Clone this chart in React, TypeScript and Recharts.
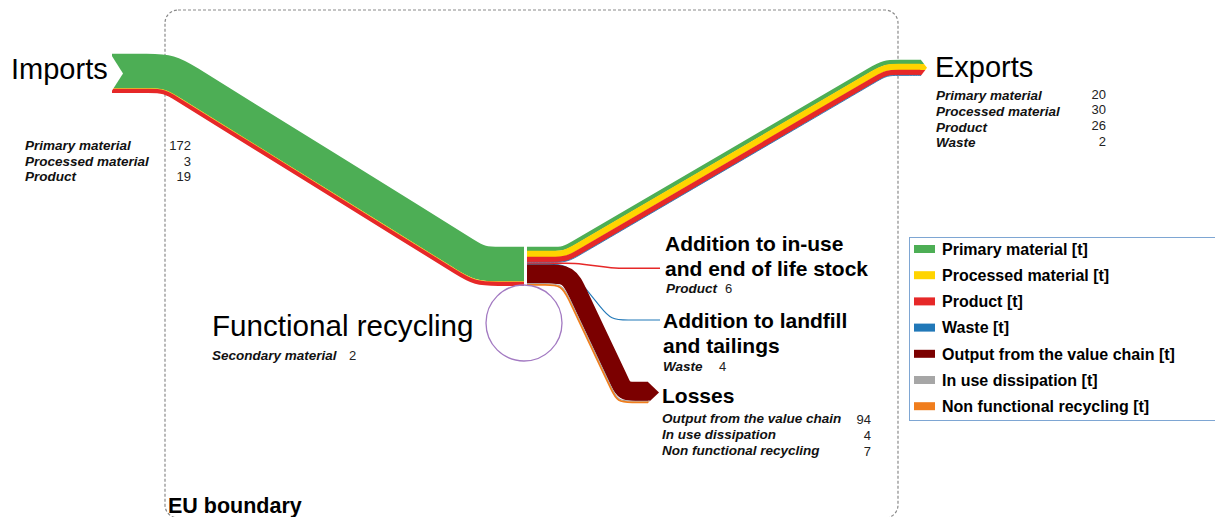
import React from 'react';
import { ComposedChart, Line, Scatter, XAxis, YAxis } from 'recharts';

// ---------------- data ----------------
const materials = [
  'Primary material',
  'Processed material',
  'Product',
  'Waste',
  'Output from the value chain',
  'In use dissipation',
  'Non functional recycling',
];
const importsMaterials = ['Primary material', 'Processed material', 'Product'];
const importsValues = [172, 3, 19];
const exportsMaterials = ['Primary material', 'Processed material', 'Product', 'Waste'];
const exportsValues = [20, 30, 26, 2];
const stockMaterials = ['Product'];
const stockValues = [6];
const landfillMaterials = ['Waste'];
const landfillValues = [4];
const lossesMaterials = ['Output from the value chain', 'In use dissipation', 'Non functional recycling'];
const lossesValues = [94, 4, 7];
const recyclingMaterials = ['Secondary material'];
const recyclingValues = [2];
const unitSuffix = ' [t]';

// ---------------- styles ----------------
const W = 1215;
const H = 517;
const PX_PER_T = 0.2;
const FONT = '"Liberation Sans", Arial, Helvetica, sans-serif';
const MATERIAL_COLORS: Record<string, string> = {
  'Primary material': '#4dae55',
  'Processed material': '#ffd400',
  Product: '#e62828',
  Waste: '#2178b8',
  'Output from the value chain': '#7b0000',
  'In use dissipation': '#a6a6a6',
  'Non functional recycling': '#f07d1c',
};
const RECYCLING_COLOR = '#a37ac2';

type Pt = [number, number];
const sum = (a: number[]) => a.reduce((s, v) => s + v, 0);

// ---------------- layout (diagram anchors) ----------------
const HUB = { inX: 524, outX: 527, top: 247 };
const T_IMP = sum(importsValues) * PX_PER_T;
const T_EXP = sum(exportsValues) * PX_PER_T;
const T_STK = sum(stockValues) * PX_PER_T;
const T_LDF = sum(landfillValues) * PX_PER_T;
const T_LOS = sum(lossesValues) * PX_PER_T;
const expTop = HUB.top;
const stkTop = expTop + T_EXP;
const ldfTop = stkTop + T_STK;
const losTop = ldfTop + T_LDF;

const cImp0 = 54 + T_IMP / 2;
const cImp1 = HUB.top + T_IMP / 2;
const cExp0 = expTop + T_EXP / 2;
const cExp1 = 60 + T_EXP / 2;
const cStk = stkTop + T_STK / 2;
const cLdf = ldfTop + T_LDF / 2;
const cLos = losTop + T_LOS / 2;
const cLosEnd = 392.5;

const ROUTES: Record<string, { verts: Pt[]; radii: number[] }> = {
  imports: { verts: [[112, cImp0], [169, cImp0], [480, cImp1], [HUB.inX, cImp1]], radii: [60, 55] },
  exports: { verts: [[HUB.outX, cExp0], [565, cExp0], [885, cExp1], [921, cExp1]], radii: [40, 40] },
  stock: { verts: [[HUB.outX, cStk], [575, cStk], [615, 268.2], [660, 268.2]], radii: [300, 300] },
  landfill: { verts: [[HUB.outX, cLdf], [566, cLdf], [611, 320], [660, 320]], radii: [30, 30] },
  losses: { verts: [[HUB.outX, cLos], [568, cLos], [623.5, cLosEnd], [648, cLosEnd]], radii: [34, 22] },
};
const RECYCLE_LOOP = { x: 524, y: 323, r: 38 };

// centre-line offset of a band -> control polygon for a smooth (basis) curve
function bandPoints(verts: Pt[], radii: number[], offset: number): { x: number; y: number }[] {
  const n = verts.length;
  const dirs: Pt[] = [];
  for (let i = 0; i < n - 1; i++) {
    const dx = verts[i + 1][0] - verts[i][0];
    const dy = verts[i + 1][1] - verts[i][1];
    const L = Math.hypot(dx, dy);
    dirs.push([dx / L, dy / L]);
  }
  const nrm = (u: Pt): Pt => [-u[1], u[0]];
  const off: Pt[] = [];
  const n0 = nrm(dirs[0]);
  off.push([verts[0][0] + n0[0] * offset, verts[0][1] + n0[1] * offset]);
  for (let i = 1; i < n - 1; i++) {
    const a = nrm(dirs[i - 1]);
    const b = nrm(dirs[i]);
    let mx = a[0] + b[0];
    let my = a[1] + b[1];
    const ml = Math.hypot(mx, my);
    mx /= ml;
    my /= ml;
    const c = mx * a[0] + my * a[1];
    off.push([verts[i][0] + (mx * offset) / c, verts[i][1] + (my * offset) / c]);
  }
  const nl = nrm(dirs[n - 2]);
  off.push([verts[n - 1][0] + nl[0] * offset, verts[n - 1][1] + nl[1] * offset]);
  const segLen: number[] = [];
  for (let i = 0; i < n - 1; i++) segLen.push(Math.hypot(off[i + 1][0] - off[i][0], off[i + 1][1] - off[i][1]));
  const pts: Pt[] = [off[0]];
  for (let i = 1; i < n - 1; i++) {
    const u1 = dirs[i - 1];
    const u2 = dirs[i];
    const cross = u1[0] * u2[1] - u1[1] * u2[0];
    const dot = u1[0] * u2[0] + u1[1] * u2[1];
    const theta = Math.atan2(Math.abs(cross), dot);
    const r = Math.max(1, radii[i - 1] - Math.sign(cross) * offset);
    let d = 1.3 * r * Math.tan(theta / 2);
    const limIn = i - 1 === 0 ? segLen[i - 1] * 0.48 : segLen[i - 1] * 0.24;
    const limOut = i === n - 2 ? segLen[i] * 0.48 : segLen[i] * 0.24;
    d = Math.min(d, limIn, limOut);
    const V = off[i];
    pts.push([V[0] - u1[0] * 2 * d, V[1] - u1[1] * 2 * d]);
    pts.push([V[0] - u1[0] * d, V[1] - u1[1] * d]);
    pts.push(V);
    pts.push([V[0] + u2[0] * d, V[1] + u2[1] * d]);
    pts.push([V[0] + u2[0] * 2 * d, V[1] + u2[1] * 2 * d]);
  }
  pts.push(off[n - 1]);
  return pts.map(([x, y]) => ({ x, y }));
}

type Flow = { key: string; mats: string[]; vals: number[] };
const FLOWS: Flow[] = [
  { key: 'imports', mats: importsMaterials, vals: importsValues },
  { key: 'exports', mats: exportsMaterials, vals: exportsValues },
  { key: 'stock', mats: stockMaterials, vals: stockValues },
  { key: 'landfill', mats: landfillMaterials, vals: landfillValues },
  { key: 'losses', mats: lossesMaterials, vals: lossesValues },
];

function stripes(flow: Flow) {
  const route = ROUTES[flow.key];
  const T = sum(flow.vals) * PX_PER_T;
  let cum = 0;
  return flow.vals.map((v, i) => {
    const t = v * PX_PER_T;
    const o = -T / 2 + cum + t / 2;
    cum += t;
    return {
      id: `${flow.key}-${i}`,
      color: MATERIAL_COLORS[flow.mats[i]],
      width: Math.max(t, 0.6) + 0.3,
      data: bandPoints(route.verts, route.radii, o),
    };
  });
}

const arrowShape = (vals: number[], mats: string[], tip: number) => (props: any) => {
  const { cx, cy } = props;
  const T = sum(vals) * PX_PER_T;
  const half = T / 2;
  const f = (yy: number) => tip * (1 - Math.abs(yy - cy) / half);
  let y = cy - half;
  return (
    <g>
      {vals.map((v, i) => {
        const t = v * PX_PER_T;
        const y1 = y;
        const y2 = y + t;
        y = y2;
        const pts: Pt[] = [[cx - 0.6, y1], [cx + f(y1), y1]];
        if (y1 < cy && y2 > cy) pts.push([cx + tip, cy]);
        pts.push([cx + f(y2), y2], [cx - 0.6, y2]);
        return <polygon key={i} points={pts.map((p) => p.join(',')).join(' ')} fill={MATERIAL_COLORS[mats[i]]} />;
      })}
    </g>
  );
};

const notchShape = (props: any) => {
  const { cx, cy } = props;
  const half = T_IMP / 2;
  return <polygon points={`${cx - 2},${cy - half - 1} ${cx + 11},${cy} ${cx - 2},${cy + half + 1}`} fill="#ffffff" />;
};

const loopShape = (props: any) => {
  const { cx, cy } = props;
  return (
    <circle cx={cx} cy={cy} r={RECYCLE_LOOP.r} fill="none" stroke={RECYCLING_COLOR}
      strokeWidth={Math.max(sum(recyclingValues) * PX_PER_T, 1.3)} />
  );
};

// ---------------- labels ----------------
type Block = {
  title: string[];
  tx: number;
  ty: number;
  tsize: number;
  tweight: number;
  tstep: number;
  rows: string[];
  vals: number[];
  rx: number;
  ry: number;
  rstep: number;
  vx: number;
  vanchor: 'start' | 'end';
  vdy: number;
};

const BLOCKS: Block[] = [
  { title: ['Imports'], tx: 11, ty: 79, tsize: 29, tweight: 400, tstep: 0, rows: importsMaterials, vals: importsValues,
    rx: 25, ry: 150, rstep: 15.5, vx: 191, vanchor: 'end', vdy: 0 },
  { title: ['Exports'], tx: 935, ty: 77, tsize: 29, tweight: 400, tstep: 0, rows: exportsMaterials, vals: exportsValues,
    rx: 936, ry: 100, rstep: 15.8, vx: 1106, vanchor: 'end', vdy: -1.5 },
  { title: ['Addition to in-use', 'and end of life stock'], tx: 665, ty: 251, tsize: 21, tweight: 700, tstep: 25,
    rows: stockMaterials, vals: stockValues, rx: 666, ry: 293, rstep: 16, vx: 725, vanchor: 'start', vdy: 0 },
  { title: ['Addition to landfill', 'and tailings'], tx: 663, ty: 328, tsize: 21, tweight: 700, tstep: 25,
    rows: landfillMaterials, vals: landfillValues, rx: 663, ry: 371, rstep: 16, vx: 719, vanchor: 'start', vdy: 0 },
  { title: ['Losses'], tx: 662, ty: 403, tsize: 21, tweight: 700, tstep: 0, rows: lossesMaterials, vals: lossesValues,
    rx: 662, ry: 423, rstep: 16, vx: 871, vanchor: 'end', vdy: 0.5 },
  { title: ['Functional recycling'], tx: 212, ty: 336, tsize: 29.6, tweight: 400, tstep: 0, rows: recyclingMaterials,
    vals: recyclingValues, rx: 212, ry: 360, rstep: 16, vx: 349, vanchor: 'start', vdy: 0 },
];

const LEGEND = { x: 909.5, y: 237.5, w: 330, h: 183, swX: 914, swW: 21, swH: 8, row0: 249, step: 26.2, textX: 942 };
const BOUNDARY = { x: 165, y: 10, w: 733, h: 508, r: 13 };

export default function App() {
  const allStripes = FLOWS.flatMap(stripes);
  return (
    <div style={{ position: 'absolute', left: 0, top: 0, width: W, height: H, overflow: 'hidden', background: '#fff' }}>
      <svg width={W} height={H} style={{ position: 'absolute', left: 0, top: 0 }}>
        <rect x={BOUNDARY.x} y={BOUNDARY.y} width={BOUNDARY.w} height={BOUNDARY.h} rx={BOUNDARY.r} ry={BOUNDARY.r}
          fill="none" stroke="#8a8a8a" strokeWidth={1.2} strokeDasharray="3 2" />
      </svg>
      <div style={{ position: 'absolute', left: 0, top: 0 }}>
        <ComposedChart width={W} height={H} margin={{ top: 0, right: 0, bottom: 0, left: 0 }}>
          <XAxis type="number" dataKey="x" domain={[0, W]} hide allowDataOverflow />
          <YAxis type="number" dataKey="y" domain={[0, H]} reversed hide allowDataOverflow />
          {allStripes.map((s) => (
            <Line key={s.id} data={s.data} dataKey="y" type="basis" stroke={s.color} strokeWidth={s.width}
              dot={false} activeDot={false} isAnimationActive={false} legendType="none" />
          ))}
          <Scatter data={[{ x: ROUTES.imports.verts[0][0], y: cImp0 }]} dataKey="y" shape={notchShape} isAnimationActive={false} />
          <Scatter data={[{ x: ROUTES.exports.verts[3][0], y: cExp1 }]} dataKey="y"
            shape={arrowShape(exportsValues, exportsMaterials, 6)} isAnimationActive={false} />
          <Scatter data={[{ x: ROUTES.losses.verts[3][0], y: cLosEnd }]} dataKey="y"
            shape={arrowShape(lossesValues, lossesMaterials, 11)} isAnimationActive={false} />
          <Scatter data={[{ x: RECYCLE_LOOP.x, y: RECYCLE_LOOP.y }]} dataKey="y" shape={loopShape} isAnimationActive={false} />
        </ComposedChart>
      </div>
      <svg width={W} height={H} style={{ position: 'absolute', left: 0, top: 0, pointerEvents: 'none' }} fontFamily={FONT}>
        {BLOCKS.map((b, bi) => (
          <g key={bi}>
            {b.title.map((t, i) => (
              <text key={i} x={b.tx} y={b.ty + i * b.tstep} fontSize={b.tsize} fontWeight={b.tweight} fill="#000">{t}</text>
            ))}
            {b.rows.map((r, i) => (
              <g key={`r${i}`}>
                <text x={b.rx} y={b.ry + i * b.rstep} fontSize={13.5} fontWeight={700} fontStyle="italic" fill="#111">{r}</text>
                <text x={b.vx} y={b.ry + i * b.rstep + b.vdy} fontSize={13} textAnchor={b.vanchor} fill="#222">{b.vals[i]}</text>
              </g>
            ))}
          </g>
        ))}
        <text x={168} y={513} fontSize={21.5} fontWeight={700} fill="#000">EU boundary</text>
        <rect x={LEGEND.x} y={LEGEND.y} width={LEGEND.w} height={LEGEND.h} fill="#fff" stroke="#7ea6d3" strokeWidth={1} />
        {materials.map((m, i) => (
          <g key={m}>
            <rect x={LEGEND.swX} y={LEGEND.row0 + i * LEGEND.step - LEGEND.swH / 2} width={LEGEND.swW} height={LEGEND.swH}
              fill={MATERIAL_COLORS[m]} />
            <text x={LEGEND.textX} y={LEGEND.row0 + i * LEGEND.step + 5.8} fontSize={16} fontWeight={700} fill="#000">
              {m + unitSuffix}
            </text>
          </g>
        ))}
      </svg>
    </div>
  );
}
